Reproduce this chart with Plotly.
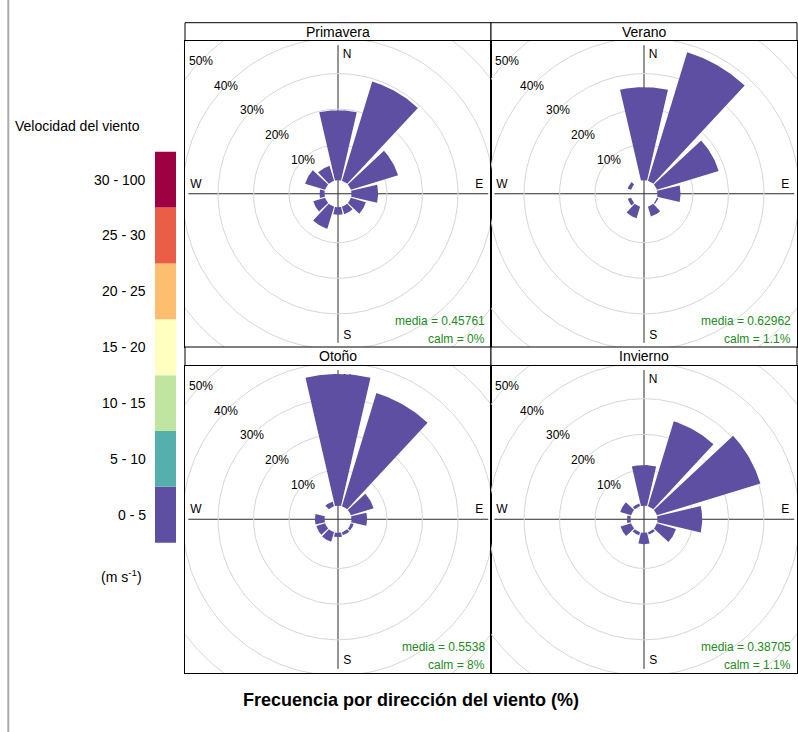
import numpy as np
import plotly.graph_objects as go

# ---------------- data ----------------
SEASONS = ["Primavera", "Verano", "Otoño", "Invierno"]
DIRECTIONS = [0, 30, 60, 90, 120, 150, 180, 210, 240, 270, 300, 330]
# frequency (%) of the 0 - 5 m/s bin per direction
PRIMAVERA = [19.7, 29.2, 13.9, 7.5, 4.4, 2.2, 2.1, 6.5, 3.5, 1.4, 5.9, 4.4]
VERANO = [26.2, 37.8, 18.2, 6.5, 0.4, 2.9, 0.0, 3.4, 1.0, 0.0, 1.0, 0.0]
OTONO = [36.9, 33.2, 6.7, 4.4, 0.8, 0.9, 1.2, 2.8, 2.6, 2.7, 0.0, 1.4]
INVIERNO = [11.4, 24.9, 30.5, 12.6, 5.6, 0.7, 3.2, 0.9, 3.1, 1.0, 3.2, 0.8]
MEDIA = ["0.45761", "0.62962", "0.5538", "0.38705"]
CALM = ["0%", "1.1%", "8%", "1.1%"]
RING_VALUES = [10, 20, 30, 40, 50]
RING_LABELS = ["10%", "20%", "30%", "40%", "50%"]
COMPASS = ["N", "S", "W", "E"]
SPEED_BINS = ["0 - 5", "5 - 10", "10 - 15", "15 - 20", "20 - 25", "25 - 30", "30 - 100"]
SPEED_COLORS = ["#5E4FA2", "#55AFAD", "#BFE5A0", "#FFFFBF", "#FDBF6F", "#EA5D47", "#9E0142"]
SEASON_VALUES = [PRIMAVERA, VERANO, OTONO, INVIERNO]

# ---------------- geometry / style ----------------
W, H = 798, 732
HOLE = 3.8          # inner hole (in % units)
HALF_WIDTH = 13.0   # half angular width of a wedge (deg)
LIMIT = 43.1        # axis half range (% units)
FONT = "Liberation Sans, Arial, sans-serif"
RING_COLOR = "#D6D6D6"
GREEN = "#228B22"
COMPASS_POS = [(0.530, 0.952), (0.530, 0.0375), (0.036, 0.529), (0.962, 0.529)]

def px(x):
    return x / W

def py(y):
    return 1 - y / H

PANELS = [  # (x0, x1, ytop, ybottom, strip_top) in pixels
    (185, 491, 40.5, 347, 22.7),
    (491, 797, 40.5, 347, 22.7),
    (185, 491, 365.5, 673, 347),
    (491, 797, 365.5, 673, 347),
]

fig = go.Figure()
layout = dict(
    width=W, height=H, margin=dict(l=0, r=0, t=0, b=0),
    paper_bgcolor="white", plot_bgcolor="white", showlegend=False,
    font=dict(family=FONT, size=12, color="black"),
)
shapes = []
annotations = []

for i, (season, vals) in enumerate(zip(SEASONS, SEASON_VALUES)):
    n = "" if i == 0 else str(i + 1)
    xa, ya = "x" + n, "y" + n
    x0, x1, yt, yb, st = PANELS[i]
    layout["xaxis" + n] = dict(
        domain=[px(x0), px(x1)], range=[-LIMIT, LIMIT], anchor=ya,
        showgrid=False, zeroline=False, showticklabels=False, ticks="",
        showline=True, mirror=True, linecolor="black", linewidth=1, fixedrange=True,
    )
    layout["yaxis" + n] = dict(
        domain=[py(yb), py(yt)], range=[-LIMIT, LIMIT], anchor=xa,
        showgrid=False, zeroline=False, showticklabels=False, ticks="",
        showline=True, mirror=True, linecolor="black", linewidth=1, fixedrange=True,
    )
    # rings
    t = np.radians(np.linspace(0, 360, 361))
    for rv in RING_VALUES:
        r = HOLE + rv
        fig.add_trace(go.Scatter(
            x=r * np.sin(t), y=r * np.cos(t), mode="lines",
            line=dict(color=RING_COLOR, width=1), hoverinfo="skip",
            xaxis=xa, yaxis=ya,
        ))
    # cross lines
    shapes.append(dict(type="line", xref=xa + " domain", yref=ya, x0=0.011, x1=0.991,
                       y0=0, y1=0, line=dict(color="#2a2a2a", width=1), layer="below"))
    shapes.append(dict(type="line", xref=xa, yref=ya + " domain", x0=0, x1=0,
                       y0=0.0137, y1=0.985, line=dict(color="#2a2a2a", width=1), layer="below"))
    # compass letters (drawn under the wedges)
    fig.add_trace(go.Scatter(
        x=[(cx - 0.5) * 2 * LIMIT for cx, cy in COMPASS_POS],
        y=[(cy - 0.5) * 2 * LIMIT for cx, cy in COMPASS_POS],
        mode="text", text=COMPASS, textposition="middle center",
        textfont=dict(size=12, color="black", family=FONT), hoverinfo="skip",
        xaxis=xa, yaxis=ya,
    ))
    # wedges
    for d, v in zip(DIRECTIONS, vals):
        if v <= 0:
            continue
        th = np.radians(np.linspace(d - HALF_WIDTH, d + HALF_WIDTH, 30))
        xin, yin = HOLE * np.sin(th), HOLE * np.cos(th)
        ro = HOLE + v
        xout, yout = ro * np.sin(th[::-1]), ro * np.cos(th[::-1])
        fig.add_trace(go.Scatter(
            x=np.concatenate([xin, xout, xin[:1]]),
            y=np.concatenate([yin, yout, yin[:1]]),
            mode="lines", fill="toself", fillcolor=SPEED_COLORS[0],
            line=dict(width=0, color=SPEED_COLORS[0]),
            hovertemplate=f"{season} {d}°: {v}%<extra></extra>",
            xaxis=xa, yaxis=ya,
        ))
    # ring labels
    ang = np.radians(136)
    for rv, lab in zip(RING_VALUES, RING_LABELS):
        r = HOLE + rv
        annotations.append(dict(x=r * np.cos(ang), y=r * np.sin(ang), xref=xa, yref=ya,
                                text=lab, showarrow=False, font=dict(size=12, color="black"),
                                xanchor="center", yanchor="middle"))
    # media / calm
    annotations.append(dict(x=0.987, y=0.084, xref=xa + " domain", yref=ya + " domain",
                            text=f"media = {MEDIA[i]}", showarrow=False,
                            font=dict(size=12, color=GREEN), xanchor="right", yanchor="middle"))
    annotations.append(dict(x=0.987, y=0.0245, xref=xa + " domain", yref=ya + " domain",
                            text=f"calm = {CALM[i]}", showarrow=False,
                            font=dict(size=12, color=GREEN), xanchor="right", yanchor="middle"))
    # strip
    shapes.append(dict(type="rect", xref="paper", yref="paper", x0=px(x0), x1=px(x1),
                       y0=py(yt), y1=py(st), line=dict(color="black", width=1),
                       fillcolor="white"))
    annotations.append(dict(x=px((x0 + x1) / 2), y=py((st + yt) / 2), xref="paper", yref="paper",
                            text=season, showarrow=False, font=dict(size=14),
                            xanchor="center", yanchor="middle"))

# ---------------- legend (colour key) ----------------
key_top, key_bot = 151.7, 542.7
seg = (key_bot - key_top) / len(SPEED_BINS)
for k, (lab, col) in enumerate(zip(SPEED_BINS, SPEED_COLORS)):
    yb = key_bot - k * seg
    ytop = yb - seg
    shapes.append(dict(type="rect", xref="paper", yref="paper", x0=px(155), x1=px(176),
                       y0=py(yb), y1=py(ytop), line=dict(width=0), fillcolor=col))
    annotations.append(dict(x=px(148), y=py((yb + ytop) / 2), xref="paper", yref="paper",
                            text=lab, showarrow=False, font=dict(size=14),
                            xanchor="right", yanchor="middle"))
annotations.append(dict(x=px(13), y=py(126), xref="paper", yref="paper",
                        text="Velocidad del viento", showarrow=False, font=dict(size=14),
                        xanchor="left", yanchor="middle"))
annotations.append(dict(x=px(121), y=py(576), xref="paper", yref="paper",
                        text="(m s<sup>-1</sup>)", showarrow=False, font=dict(size=14),
                        xanchor="center", yanchor="middle"))

# axis title
annotations.append(dict(x=px(411), y=py(700), xref="paper", yref="paper",
                        text="<b>Frecuencia por dirección del viento (%)</b>", showarrow=False,
                        font=dict(size=18), xanchor="center", yanchor="middle"))

# page border line on the left
shapes.append(dict(type="line", xref="paper", yref="paper", x0=px(8.3), x1=px(8.3),
                   y0=0, y1=1, line=dict(color="#ABABAB", width=2)))

layout["shapes"] = shapes
layout["annotations"] = annotations
fig.update_layout(**layout)
fig.write_html(
    "out.html",
    config={"displayModeBar": False},
    post_script="document.body.style.margin='0px';document.body.style.overflow='hidden';",
)
